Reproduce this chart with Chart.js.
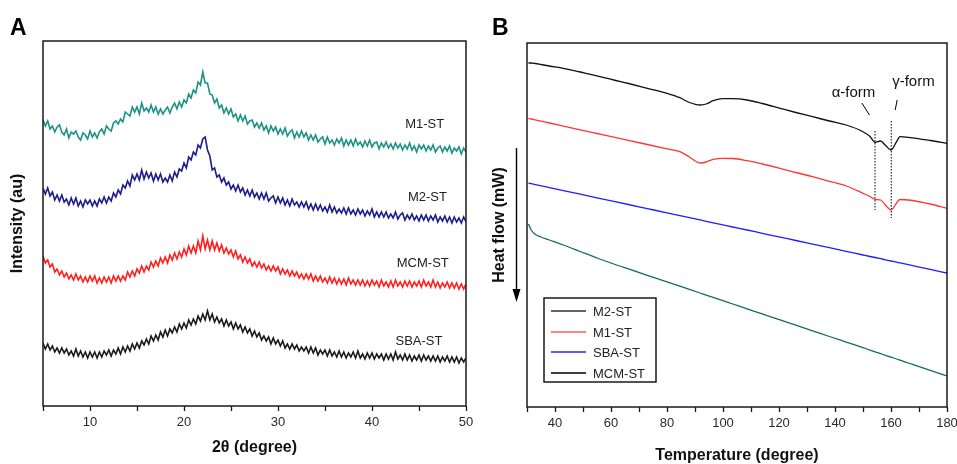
<!DOCTYPE html>
<html>
<head>
<meta charset="utf-8">
<title>XRD and DSC of ST loaded silicas</title>
<script src="https://cdn.jsdelivr.net/npm/chart.js@4.4.1/dist/chart.umd.min.js"></script>
<style>
  body { margin: 0; background: #fff; }
  #wrap { position: relative; width: 957px; height: 464px; }
  .panel { position: absolute; top: 0; height: 464px; }
  #xrdBox { left: 0; width: 478px; }
  #dscBox { left: 478px; width: 479px; }
</style>
</head>
<body>
<div id="wrap">
  <div class="panel" id="xrdBox"><canvas id="xrdChart" width="478" height="464"></canvas></div>
  <div class="panel" id="dscBox"><canvas id="dscChart" width="479" height="464"></canvas></div>
</div>
<script>
// ---- panel A : XRD, 2theta sampled every 0.25 deg from 5 to 50 ----
const twoThetaStart = 5;
const twoThetaStep = 0.25;

const xrdM1 = [286,280,285,277,280,274,279,281,274,271,277,268,274,272,275,269,266,273,271,267,
  275,269,273,268,274,277,272,280,277,275,283,285,282,287,284,294,292,290,299,294,
  299,292,303,295,298,294,301,294,299,292,297,292,296,299,293,299,303,297,304,299,
  306,303,312,308,316,313,324,321,334,323,323,312,311,303,307,298,301,293,298,292,
  297,289,292,285,291,285,290,282,285,286,279,283,278,283,276,280,273,280,275,279,
  272,277,272,278,270,274,276,268,274,269,275,269,273,266,271,266,271,264,267,269,
  262,269,263,266,261,267,263,268,260,266,261,266,260,267,261,264,259,265,260,266,
  259,263,264,257,263,259,264,258,262,257,263,258,262,256,261,257,263,256,260,254,
  261,257,261,255,260,256,261,254,258,260,254,259,255,260,253,258,255,259,252,258,254];

const xrdM2 = [218,212,218,210,214,206,211,205,211,204,207,201,208,202,208,200,205,199,206,202,
  206,200,205,200,207,203,209,203,209,205,213,209,216,212,221,218,225,220,231,226,
  232,226,236,227,234,228,233,225,232,226,232,224,228,224,231,225,234,229,237,235,
  243,238,249,246,254,251,261,258,267,269,256,250,236,238,229,231,224,228,221,224,
  217,221,215,221,214,218,211,216,210,216,209,213,207,213,207,213,205,208,210,203,
  209,203,208,201,206,200,207,201,204,199,204,199,204,197,202,196,202,196,201,195,
  199,194,201,194,199,193,197,193,198,192,198,192,196,191,197,192,196,190,195,191,
  197,189,194,189,194,189,194,188,192,188,194,187,191,193,186,191,187,192,186,190,
  185,191,186,191,185,190,186,191,184,189,185,190,184,189,183,189,184,188,183,189,184];

const xrdMCM = [150,143,146,139,142,134,137,131,135,129,133,127,131,126,132,126,130,124,129,124,
  130,125,130,123,128,123,129,124,129,123,130,125,130,125,130,126,134,129,135,130,
  137,133,140,134,140,136,144,139,145,140,148,143,149,143,151,146,153,147,154,149,
  157,151,160,153,160,153,165,156,170,157,166,156,165,156,163,155,161,153,158,152,
  156,149,155,147,151,144,149,143,147,140,144,139,144,138,142,136,140,135,140,135,
  139,132,137,132,136,130,135,130,134,128,132,127,132,127,132,125,130,125,130,124,
  128,123,129,123,128,122,127,122,127,121,128,122,126,121,126,121,126,120,125,120,
  126,121,125,119,126,120,124,119,125,119,126,120,124,119,125,120,125,119,124,120,
  125,119,126,120,124,119,126,119,124,118,123,119,124,118,123,118,123,117,122,117,122];

const xrdSBA = [63,57,62,56,60,54,58,53,58,53,57,51,55,50,57,50,55,49,54,48,
  54,49,54,48,54,49,55,51,56,50,56,52,58,52,59,54,60,55,62,57,
  63,58,65,61,67,62,70,65,71,66,74,69,76,70,77,73,79,74,82,77,
  83,78,86,81,87,82,90,85,92,86,95,86,92,84,89,83,87,80,86,80,
  84,77,83,77,81,74,79,73,77,70,75,69,73,66,70,65,69,62,68,62,
  66,60,65,58,62,57,62,57,61,55,59,55,59,53,59,53,58,51,56,52,
  56,50,56,50,54,49,55,49,54,48,53,49,54,48,55,48,52,47,53,48,
  53,47,52,48,52,46,52,47,52,46,54,47,51,46,52,46,51,45,50,46,
  51,45,51,46,50,45,50,45,50,44,49,45,50,44,49,44,49,43,48,44,48];

const xrdNames = ['M1-ST', 'M2-ST', 'MCM-ST', 'SBA-ST'];
const xrdTickLabels = [10, 20, 30, 40, 50];

// ---- panel B : DSC ----
const dscTemp = [30.5, 31.5, 33, 35, 38, 43, 49, 55, 61, 67, 73, 80, 84.6, 88, 91.8, 94, 96.5, 100, 103.5,
  108.6, 114, 120.4, 126, 132, 138, 144, 150, 152.5, 154.3, 156.3, 158, 160, 162, 163.2, 166.2, 174, 180];
const dscM2 = [3.44, 3.44, 3.435, 3.425, 3.41, 3.387, 3.35, 3.312, 3.27, 3.23, 3.187, 3.137, 3.093, 3.045,
  3.02, 3.03, 3.063, 3.083, 3.083, 3.07, 3.035, 2.987, 2.945, 2.903, 2.86, 2.82, 2.753, 2.705, 2.647,
  2.66, 2.617, 2.57, 2.653, 2.703, 2.697, 2.665, 2.635];
const dscM1 = [2.887, 2.88, 2.871, 2.859, 2.84, 2.809, 2.772, 2.735, 2.698, 2.661, 2.625, 2.582, 2.553,
  2.50, 2.44, 2.45, 2.477, 2.487, 2.485, 2.463, 2.43, 2.387, 2.345, 2.303, 2.257, 2.21, 2.137, 2.105,
  2.077, 2.07, 2.02, 1.97, 2.04, 2.075, 2.07, 2.03, 1.987];
const dscSBA = [2.239, 2.233, 2.224, 2.212, 2.194, 2.164, 2.128, 2.092, 2.056, 2.02, 1.984, 1.942, 1.914,
  1.893, 1.871, 1.857, 1.842, 1.821, 1.80, 1.77, 1.737, 1.699, 1.665, 1.629, 1.593, 1.557, 1.52, 1.505,
  1.495, 1.483, 1.472, 1.46, 1.448, 1.441, 1.423, 1.376, 1.34];
const dscMCM = [1.83, 1.77, 1.725, 1.70, 1.67, 1.62, 1.555, 1.49, 1.43, 1.374, 1.317, 1.251, 1.208, 1.176,
  1.14, 1.119, 1.096, 1.063, 1.03, 0.982, 0.931, 0.871, 0.818, 0.762, 0.705, 0.649, 0.593, 0.569, 0.552,
  0.533, 0.517, 0.498, 0.48, 0.468, 0.44, 0.367, 0.31];
const dscNames = ['M2-ST', 'M1-ST', 'SBA-ST', 'MCM-ST'];
const dscTickLabels = [40, 60, 80, 100, 120, 140, 160, 180];

// melting forms: temperature of the dotted marker and its vertical extent (mW)
const formNames = ['\u03b1-form', '\u03b3-form'];
const formTemp = [154.3, 160.1];
const formTop = [2.76, 2.86];
const formBottom = [1.97, 1.89];

// ---- layout / style ----
const FONT = '"Liberation Sans", Arial, Helvetica, sans-serif';
const INK = '#1a1a1a';
const xrdColors = ['#1c9285', '#1c1c8c', '#ff1f1f', '#1a1a1a'];
const xrdTagPos = [[45.6, 282], [45.9, 209], [45.4, 143], [45.0, 65]];
const dscColors = ['#111111', '#ff3535', '#1e1eff', '#136d62'];
const legendColors = ['#333333', '#ff5c5c', '#2424ff', '#000000'];
// annotation text centre and leader line ends, in data units
const formTextPos = [[146.6, 3.14], [168.0, 3.25]];
const formLeader = [[[149.6, 3.04], [152.3, 2.92]], [[162.2, 3.07], [161.5, 2.97]]];

const frame = {
  id: 'frame',
  afterDatasetsDraw(chart) {
    const { ctx, chartArea: a } = chart;
    ctx.save();
    ctx.strokeStyle = INK;
    ctx.lineWidth = 1.5;
    ctx.strokeRect(a.left, a.top, a.right - a.left, a.bottom - a.top);
    ctx.restore();
  }
};

const panelLetter = {
  id: 'panelLetter',
  afterDraw(chart, args, opts) {
    const ctx = chart.ctx;
    ctx.save();
    ctx.font = 'bold 23px ' + FONT;
    ctx.fillStyle = '#000';
    ctx.textBaseline = 'middle';
    ctx.fillText(opts.text, opts.x, opts.y);
    ctx.restore();
  }
};

const xrdTags = {
  id: 'xrdTags',
  afterDatasetsDraw(chart) {
    const { ctx, scales: { x, y } } = chart;
    ctx.save();
    ctx.font = '13px ' + FONT;
    ctx.fillStyle = '#222';
    ctx.textAlign = 'center';
    ctx.textBaseline = 'middle';
    xrdNames.forEach((n, i) => {
      ctx.fillText(n, x.getPixelForValue(xrdTagPos[i][0]), y.getPixelForValue(xrdTagPos[i][1]));
    });
    ctx.restore();
  }
};

const dscDecor = {
  id: 'dscDecor',
  afterDatasetsDraw(chart) {
    const { ctx, chartArea: a, scales: { x, y } } = chart;
    ctx.save();
    // form labels
    ctx.font = '15px ' + FONT;
    ctx.fillStyle = '#111';
    ctx.textAlign = 'center';
    ctx.textBaseline = 'middle';
    formNames.forEach((n, i) => {
      ctx.fillText(n, x.getPixelForValue(formTextPos[i][0]), y.getPixelForValue(formTextPos[i][1]));
    });
    // heat flow arrow, outside the frame
    const ax = Math.round(a.left - 11) + 0.5;
    ctx.strokeStyle = '#000';
    ctx.fillStyle = '#000';
    ctx.lineWidth = 1.4;
    ctx.beginPath();
    ctx.moveTo(ax, a.top + 105);
    ctx.lineTo(ax, a.top + 248);
    ctx.stroke();
    ctx.beginPath();
    ctx.moveTo(ax - 4, a.top + 246);
    ctx.lineTo(ax + 4, a.top + 246);
    ctx.lineTo(ax, a.top + 259);
    ctx.closePath();
    ctx.fill();
    // legend box
    const lx = Math.round(a.left + 17), ly = Math.round(a.top + 255), lw = 112, lh = 84;
    ctx.fillStyle = '#fff';
    ctx.fillRect(lx, ly, lw, lh);
    ctx.lineWidth = 1.5;
    ctx.strokeStyle = INK;
    ctx.strokeRect(lx, ly, lw, lh);
    ctx.font = '13px ' + FONT;
    ctx.textAlign = 'left';
    ctx.fillStyle = '#222';
    dscNames.forEach((n, i) => {
      const ry = Math.round(ly + 13 + i * 20.5);
      ctx.strokeStyle = legendColors[i];
      ctx.lineWidth = 1.6;
      ctx.beginPath();
      ctx.moveTo(lx + 7, ry);
      ctx.lineTo(lx + 42, ry);
      ctx.stroke();
      ctx.fillText(n, lx + 49, ry + 1);
    });
    ctx.restore();
  }
};

function xAxis(min, max, step, labels, title, height, titlePad, titleLineHeight) {
  return {
    type: 'linear', min: min, max: max,
    afterFit: s => { s.height = height; s.paddingLeft = 0; s.paddingRight = 0; },
    grid: { display: true, drawOnChartArea: false, drawTicks: true, tickLength: 5, tickColor: INK, tickWidth: 1.3 },
    border: { display: false },
    ticks: {
      stepSize: step, autoSkip: false, maxRotation: 0, padding: 4, color: '#2a2a2a',
      font: { family: FONT, size: 13 },
      callback: v => labels.includes(v) ? String(v) : ''
    },
    title: { display: true, text: title, color: '#111', padding: { top: 0, bottom: titlePad },
      font: { family: FONT, size: 16, weight: 'bold', lineHeight: titleLineHeight } }
  };
}

function yAxis(min, max, width, title, titlePad) {
  return {
    type: 'linear', min: min, max: max,
    afterFit: s => { s.width = width; s.paddingTop = 0; s.paddingBottom = 0; },
    grid: { display: false }, border: { display: false },
    ticks: { display: false },
    title: { display: true, text: title, color: '#111', padding: { top: titlePad, bottom: 0 },
      font: { family: FONT, size: 16, weight: 'bold' } }
  };
}

const xrdSeries = [xrdM1, xrdM2, xrdMCM, xrdSBA];
new Chart(document.getElementById('xrdChart'), {
  type: 'line',
  data: {
    datasets: xrdSeries.map((s, k) => ({
      label: xrdNames[k],
      data: s.map((v, i) => ({ x: twoThetaStart + i * twoThetaStep, y: v })),
      borderColor: xrdColors[k], borderWidth: 1.6, pointRadius: 0, tension: 0
    }))
  },
  options: {
    responsive: false, animation: false, devicePixelRatio: 1, events: [],
    layout: { padding: { left: 0, top: 41, right: 12, bottom: 0 } },
    scales: {
      x: xAxis(5, 50, 5, xrdTickLabels, '2\u03b8 (degree)', 58, 7, 1.2),
      y: yAxis(0, 365, 43, 'Intensity (au)', 8)
    },
    plugins: { legend: { display: false }, tooltip: { enabled: false },
      panelLetter: { text: 'A', x: 10, y: 29 } }
  },
  plugins: [frame, xrdTags, panelLetter]
});

const dscSeries = [dscM2, dscM1, dscSBA, dscMCM];
const dscSets = dscSeries.map((s, k) => ({
  label: dscNames[k],
  data: s.map((v, i) => ({ x: dscTemp[i], y: v })),
  borderColor: dscColors[k], borderWidth: 1.3, pointRadius: 0, cubicInterpolationMode: 'monotone'
}));
formNames.forEach((n, i) => {
  dscSets.push({
    label: n + ' marker',
    data: [{ x: formTemp[i], y: formTop[i] }, { x: formTemp[i], y: formBottom[i] }],
    borderColor: '#000', borderWidth: 1, borderDash: [1.5, 1.5], pointRadius: 0
  });
  dscSets.push({
    label: n + ' leader',
    data: formLeader[i].map(p => ({ x: p[0], y: p[1] })),
    borderColor: '#000', borderWidth: 1, pointRadius: 0
  });
});

new Chart(document.getElementById('dscChart'), {
  type: 'line',
  data: { datasets: dscSets },
  options: {
    responsive: false, animation: false, devicePixelRatio: 1, events: [],
    layout: { padding: { left: 0, top: 43, right: 10, bottom: 0 } },
    scales: {
      x: xAxis(30, 180, 10, dscTickLabels, 'Temperature (degree)', 57, 0, 1),
      y: yAxis(0, 3.64, 49, 'Heat flow (mW)', 12)
    },
    plugins: { legend: { display: false }, tooltip: { enabled: false },
      panelLetter: { text: 'B', x: 14, y: 29 } }
  },
  plugins: [frame, dscDecor, panelLetter]
});
</script>
</body>
</html>
